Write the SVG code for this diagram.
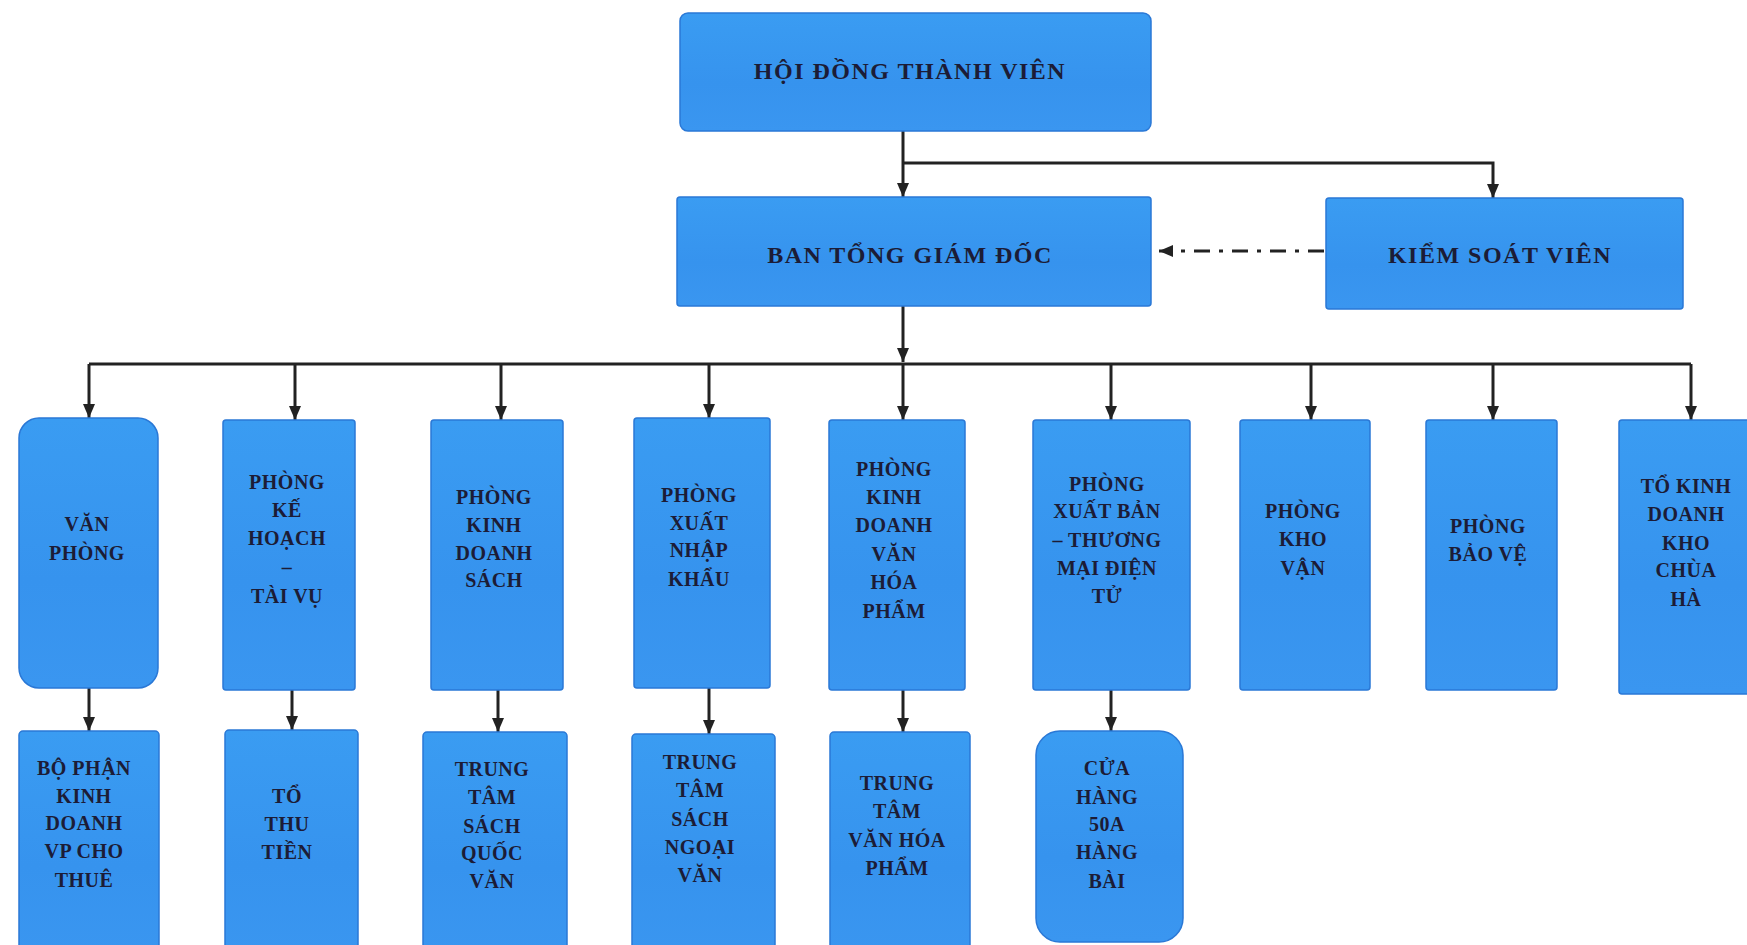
<svg xmlns="http://www.w3.org/2000/svg" width="1747" height="945" viewBox="0 0 1747 945">
<defs>
<linearGradient id="g" x1="0" y1="0" x2="0" y2="1">
<stop offset="0" stop-color="#3a9cf2"/>
<stop offset="0.6" stop-color="#3693ee"/>
<stop offset="1" stop-color="#3a96f0"/>
</linearGradient>
<marker id="ah" markerUnits="userSpaceOnUse" markerWidth="14" markerHeight="14" refX="14" refY="7" orient="auto">
<path d="M0,1 L14,7 L0,13 z" fill="#222"/>
</marker>
<style>
.box{fill:url(#g);stroke:#2a78d6;stroke-width:1.5}
.t{font-family:"Liberation Serif","Times New Roman",serif;font-weight:bold;fill:#1c1c36;text-anchor:middle}
.big{font-size:24px;letter-spacing:1.5px}
.sm{font-size:20px;letter-spacing:0.5px}
.ln{fill:none;stroke:#222;stroke-width:3}
.ar{fill:none;stroke:#222;stroke-width:3;marker-end:url(#ah)}
.dd{fill:none;stroke:#222;stroke-width:3;stroke-dasharray:16 9 4 9;marker-end:url(#ah)}
</style>
</defs>
<rect width="1747" height="945" fill="#ffffff"/>

<g id="connectors">
<path class="ar" d="M903,131 V197"/>
<path class="ar" d="M903,163 H1493 V198"/>
<path class="dd" d="M1324,251 H1159"/>
<path class="ar" d="M903,306 V362"/>
<path class="ln" d="M89,364 H1691"/>
<path class="ar" d="M89,364 V418"/>
<path class="ar" d="M295,364 V420"/>
<path class="ar" d="M501,364 V420"/>
<path class="ar" d="M709,364 V418"/>
<path class="ar" d="M903,364 V420"/>
<path class="ar" d="M1111,364 V420"/>
<path class="ar" d="M1311,364 V420"/>
<path class="ar" d="M1493,364 V420"/>
<path class="ar" d="M1691,364 V420"/>
<path class="ar" d="M89,688 V731"/>
<path class="ar" d="M292,690 V730"/>
<path class="ar" d="M498,690 V732"/>
<path class="ar" d="M709,688 V734"/>
<path class="ar" d="M903,690 V732"/>
<path class="ar" d="M1111,690 V731"/>
</g>

<g id="hoi-dong-thanh-vien">
<rect class="box" x="680" y="13" width="471" height="118" rx="8"/>
<text class="t big" x="910" y="79">HỘI ĐỒNG THÀNH VIÊN</text>
</g>
<g id="ban-tong-giam-doc">
<rect class="box" x="677" y="197" width="474" height="109" rx="3"/>
<text class="t big" x="910" y="263">BAN TỔNG GIÁM ĐỐC</text>
</g>
<g id="kiem-soat-vien">
<rect class="box" x="1326" y="198" width="357" height="111" rx="3"/>
<text class="t big" x="1500" y="263">KIỂM SOÁT VIÊN</text>
</g>

<g id="van-phong">
<rect class="box" x="19" y="418" width="139" height="270" rx="20"/>
<text class="t sm" x="87" y="531">VĂN</text>
<text class="t sm" x="87" y="560">PHÒNG</text>
</g>
<g id="phong-ke-hoach-tai-vu">
<rect class="box" x="223" y="420" width="132" height="270" rx="3"/>
<text class="t sm" x="287" y="489">PHÒNG</text>
<text class="t sm" x="287" y="517">KẾ</text>
<text class="t sm" x="287" y="545">HOẠCH</text>
<text class="t sm" x="287" y="574">–</text>
<text class="t sm" x="287" y="603">TÀI VỤ</text>
</g>
<g id="phong-kinh-doanh-sach">
<rect class="box" x="431" y="420" width="132" height="270" rx="3"/>
<text class="t sm" x="494" y="504">PHÒNG</text>
<text class="t sm" x="494" y="532">KINH</text>
<text class="t sm" x="494" y="560">DOANH</text>
<text class="t sm" x="494" y="587">SÁCH</text>
</g>
<g id="phong-xuat-nhap-khau">
<rect class="box" x="634" y="418" width="136" height="270" rx="3"/>
<text class="t sm" x="699" y="502">PHÒNG</text>
<text class="t sm" x="699" y="530">XUẤT</text>
<text class="t sm" x="699" y="557">NHẬP</text>
<text class="t sm" x="699" y="586">KHẨU</text>
</g>
<g id="phong-kinh-doanh-van-hoa-pham">
<rect class="box" x="829" y="420" width="136" height="270" rx="3"/>
<text class="t sm" x="894" y="476">PHÒNG</text>
<text class="t sm" x="894" y="504">KINH</text>
<text class="t sm" x="894" y="532">DOANH</text>
<text class="t sm" x="894" y="561">VĂN</text>
<text class="t sm" x="894" y="589">HÓA</text>
<text class="t sm" x="894" y="618">PHẨM</text>
</g>
<g id="phong-xuat-ban-tmdt">
<rect class="box" x="1033" y="420" width="157" height="270" rx="3"/>
<text class="t sm" x="1107" y="491">PHÒNG</text>
<text class="t sm" x="1107" y="518">XUẤT BẢN</text>
<text class="t sm" x="1107" y="547">– THƯƠNG</text>
<text class="t sm" x="1107" y="575">MẠI ĐIỆN</text>
<text class="t sm" x="1107" y="603">TỬ</text>
</g>
<g id="phong-kho-van">
<rect class="box" x="1240" y="420" width="130" height="270" rx="3"/>
<text class="t sm" x="1303" y="518">PHÒNG</text>
<text class="t sm" x="1303" y="546">KHO</text>
<text class="t sm" x="1303" y="575">VẬN</text>
</g>
<g id="phong-bao-ve">
<rect class="box" x="1426" y="420" width="131" height="270" rx="3"/>
<text class="t sm" x="1488" y="533">PHÒNG</text>
<text class="t sm" x="1488" y="561">BẢO VỆ</text>
</g>
<g id="to-kinh-doanh-kho-chua-ha">
<rect class="box" x="1619" y="420" width="140" height="274" rx="3"/>
<text class="t sm" x="1686" y="493">TỔ KINH</text>
<text class="t sm" x="1686" y="521">DOANH</text>
<text class="t sm" x="1686" y="550">KHO</text>
<text class="t sm" x="1686" y="577">CHÙA</text>
<text class="t sm" x="1686" y="606">HÀ</text>
</g>

<g id="bo-phan-kd-vp-cho-thue">
<rect class="box" x="19" y="731" width="140" height="225" rx="4"/>
<text class="t sm" x="84" y="775">BỘ PHẬN</text>
<text class="t sm" x="84" y="803">KINH</text>
<text class="t sm" x="84" y="830">DOANH</text>
<text class="t sm" x="84" y="858">VP CHO</text>
<text class="t sm" x="84" y="887">THUÊ</text>
</g>
<g id="to-thu-tien">
<rect class="box" x="225" y="730" width="133" height="225" rx="4"/>
<text class="t sm" x="287" y="803">TỔ</text>
<text class="t sm" x="287" y="831">THU</text>
<text class="t sm" x="287" y="859">TIỀN</text>
</g>
<g id="trung-tam-sach-quoc-van">
<rect class="box" x="423" y="732" width="144" height="225" rx="4"/>
<text class="t sm" x="492" y="776">TRUNG</text>
<text class="t sm" x="492" y="804">TÂM</text>
<text class="t sm" x="492" y="833">SÁCH</text>
<text class="t sm" x="492" y="860">QUỐC</text>
<text class="t sm" x="492" y="888">VĂN</text>
</g>
<g id="trung-tam-sach-ngoai-van">
<rect class="box" x="632" y="734" width="143" height="225" rx="4"/>
<text class="t sm" x="700" y="769">TRUNG</text>
<text class="t sm" x="700" y="797">TÂM</text>
<text class="t sm" x="700" y="826">SÁCH</text>
<text class="t sm" x="700" y="854">NGOẠI</text>
<text class="t sm" x="700" y="882">VĂN</text>
</g>
<g id="trung-tam-van-hoa-pham">
<rect class="box" x="830" y="732" width="140" height="225" rx="4"/>
<text class="t sm" x="897" y="790">TRUNG</text>
<text class="t sm" x="897" y="818">TÂM</text>
<text class="t sm" x="897" y="847">VĂN HÓA</text>
<text class="t sm" x="897" y="875">PHẨM</text>
</g>
<g id="cua-hang-50a-hang-bai">
<rect class="box" x="1036" y="731" width="147" height="211" rx="24"/>
<text class="t sm" x="1107" y="775">CỬA</text>
<text class="t sm" x="1107" y="804">HÀNG</text>
<text class="t sm" x="1107" y="831">50A</text>
<text class="t sm" x="1107" y="859">HÀNG</text>
<text class="t sm" x="1107" y="888">BÀI</text>
</g>
</svg>
